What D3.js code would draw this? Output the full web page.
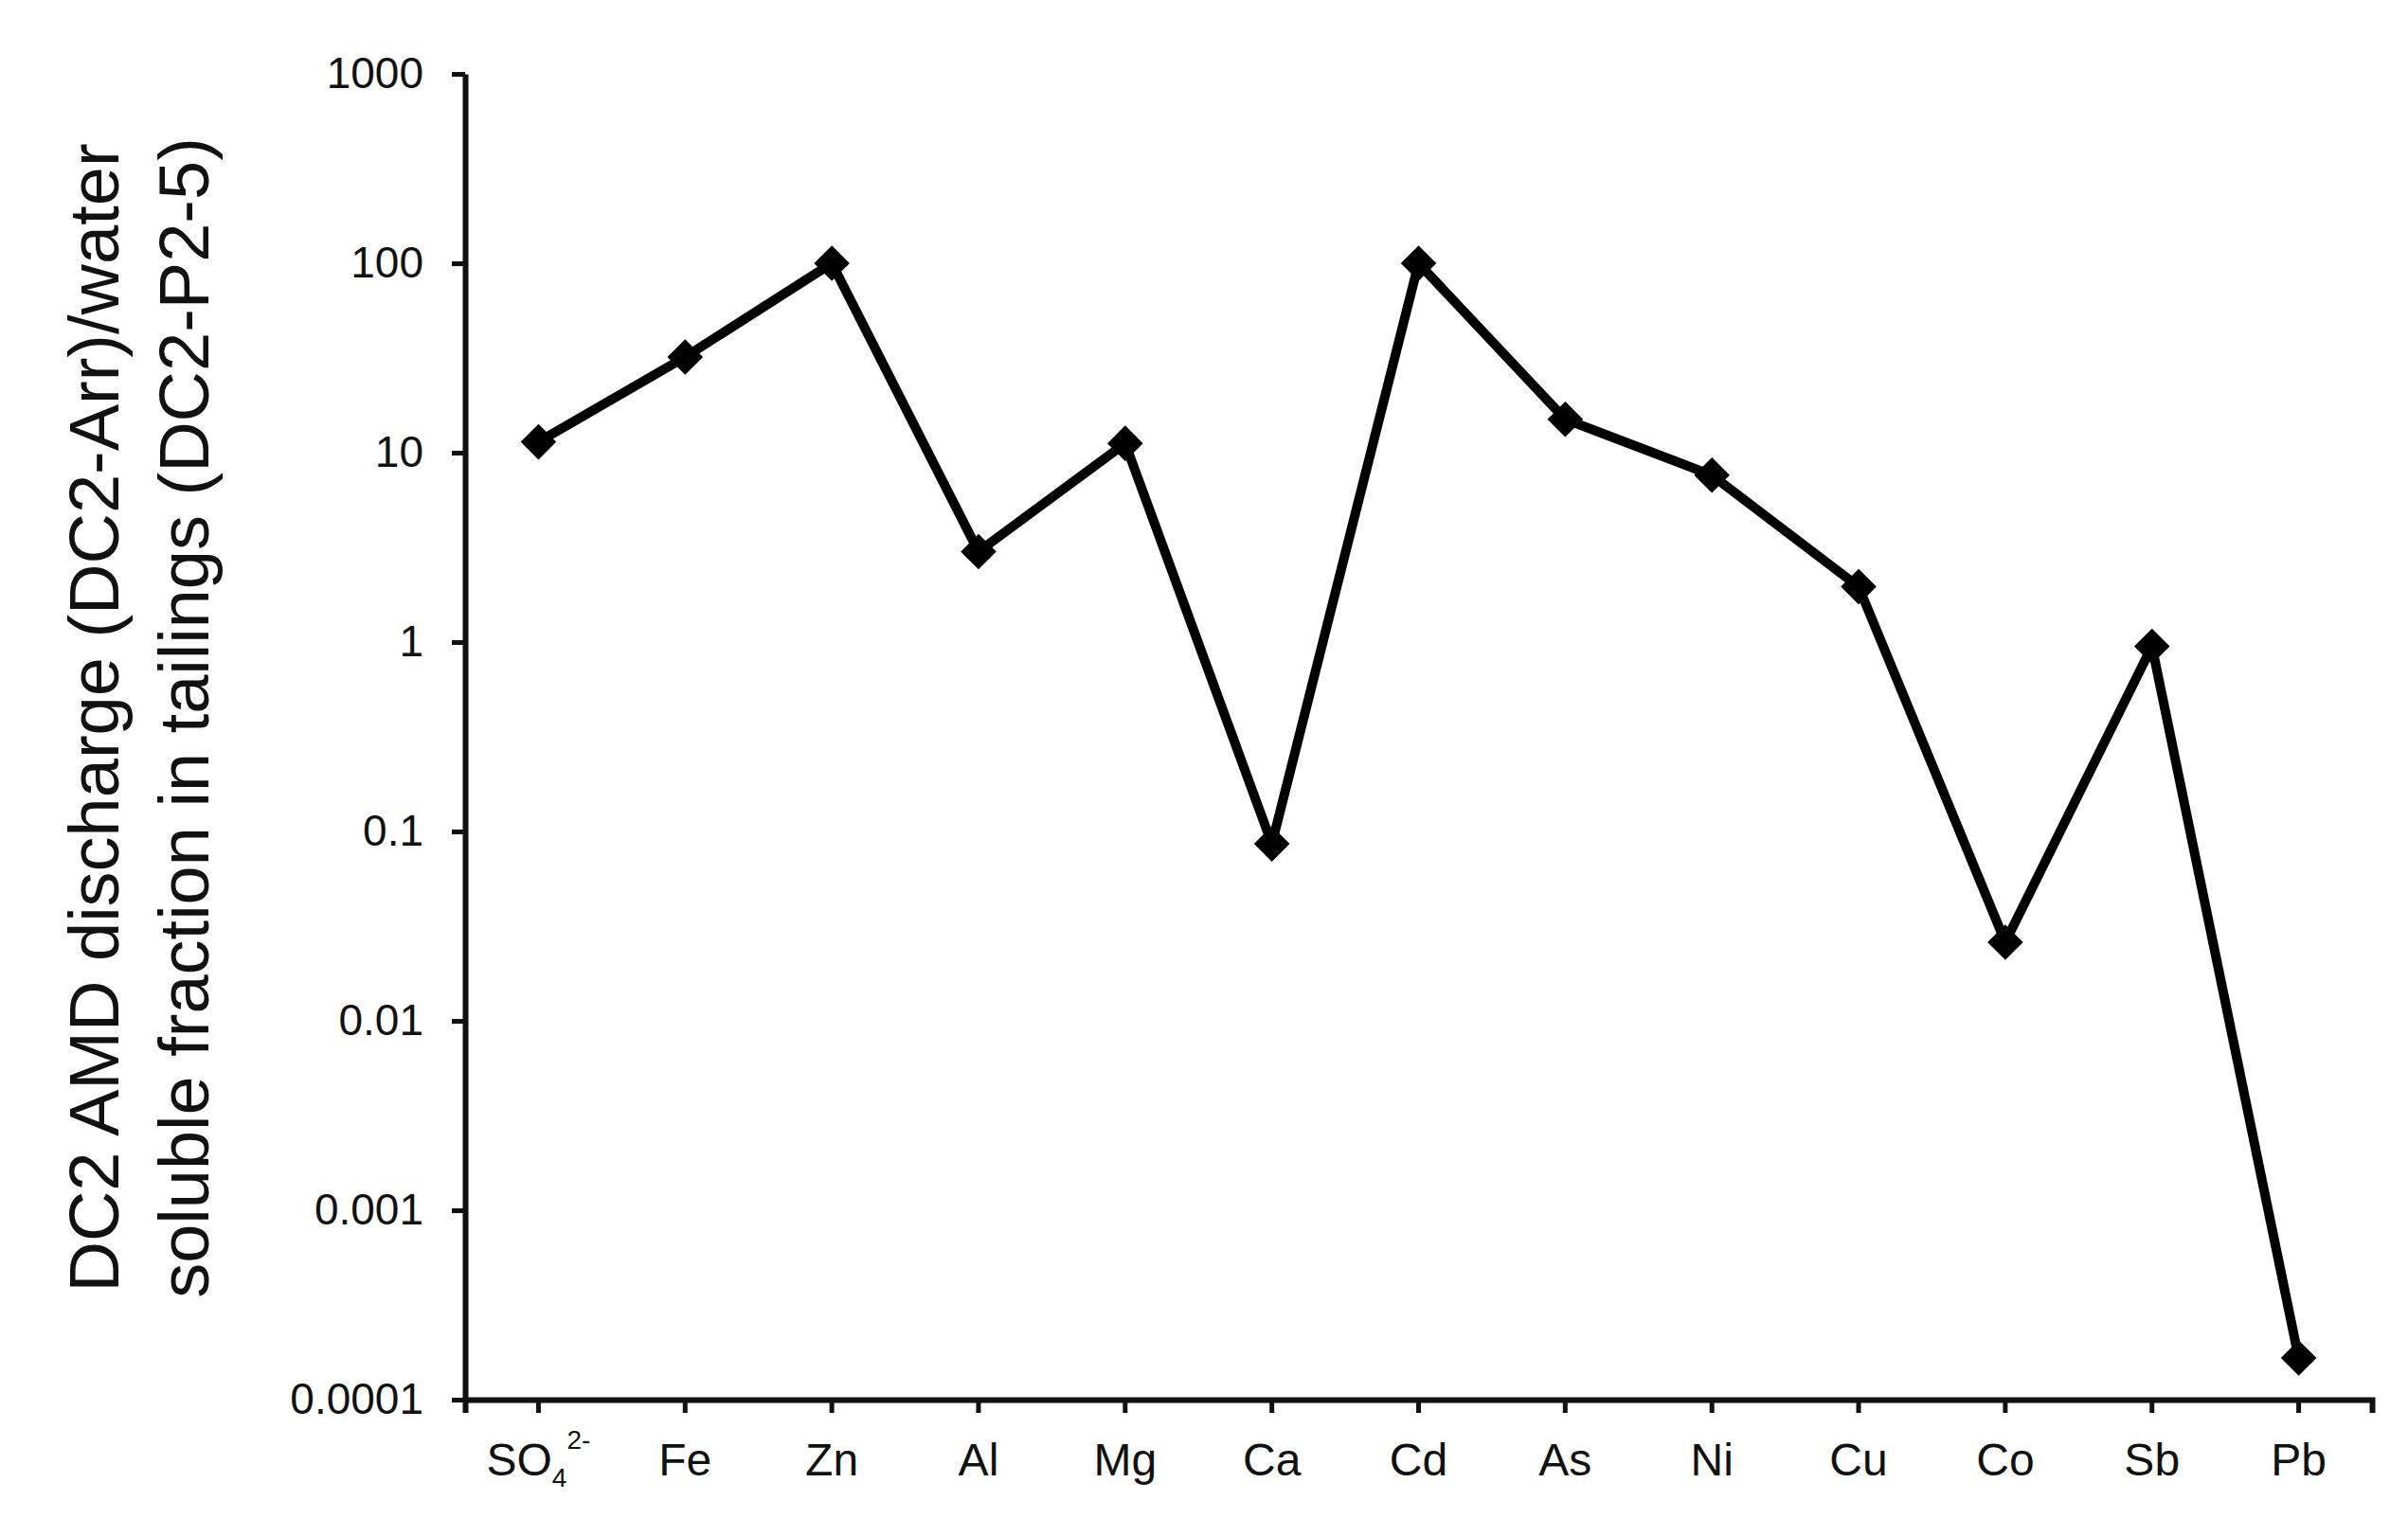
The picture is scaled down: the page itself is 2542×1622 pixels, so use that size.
<!DOCTYPE html>
<html>
<head>
<meta charset="utf-8">
<script src="https://cdn.jsdelivr.net/npm/d3@7"></script>
<style>
  body { margin: 0; background: #fff; }
  text { font-family: "Liberation Sans", Arial, sans-serif; fill: #111; }
</style>
</head>
<body>
<svg id="chart" width="2542" height="1622"></svg>
<script>
var elements = ["SO4", "Fe", "Zn", "Al", "Mg", "Ca", "Cd", "As", "Ni", "Cu", "Co", "Sb", "Pb"];
var ratios = [11.4, 32, 100, 3.0, 11.2, 0.086, 100, 15, 7.6, 1.96, 0.026, 0.95, 0.000166];
var yTicks = [0.0001, 0.001, 0.01, 0.1, 1, 10, 100, 1000];
var yTickLabels = ["0.0001", "0.001", "0.01", "0.1", "1", "10", "100", "1000"];

var svg = d3.select("#chart");
var plotLeft = 491, plotRight = 2504, plotTop = 78, plotBottom = 1478;

var x = d3.scaleBand().domain(elements).range([plotLeft, plotRight]);
var y = d3.scaleLog().domain([0.0001, 1000]).range([plotBottom, plotTop]);

// x axis
var xAxis = svg.append("g")
  .attr("transform", "translate(0," + plotBottom + ")")
  .call(d3.axisBottom(x).tickSize(14).tickSizeOuter(14).tickPadding(32));
xAxis.select(".domain").attr("stroke", "#111").attr("stroke-width", 6);
xAxis.selectAll(".tick line").attr("stroke", "#111").attr("stroke-width", 5);
xAxis.selectAll(".tick text").attr("font-size", 48).attr("fill", "#111")
  .attr("font-family", "Liberation Sans, Arial, sans-serif");

// SO4 2- label with sub/superscript
var so4 = xAxis.selectAll(".tick text").filter(d => d === "SO4");
so4.text("SO");
so4.append("tspan").text("4").attr("font-size", 28).attr("dy", 12);
so4.append("tspan").text("2-").attr("font-size", 28).attr("dy", -40);

// y axis
var yAxis = svg.append("g")
  .attr("transform", "translate(" + plotLeft + ",0)")
  .call(d3.axisLeft(y).tickValues(yTicks).tickFormat((d, i) => yTickLabels[i]).tickSize(14).tickSizeOuter(0).tickPadding(30));
yAxis.select(".domain").attr("stroke", "#111").attr("stroke-width", 6);
yAxis.selectAll(".tick line").attr("stroke", "#111").attr("stroke-width", 5);
yAxis.selectAll(".tick text").attr("font-size", 46).attr("fill", "#111")
  .attr("font-family", "Liberation Sans, Arial, sans-serif");

// axis title
var title = svg.append("text")
  .attr("transform", "translate(0,758) rotate(-90)")
  .attr("text-anchor", "middle")
  .attr("font-size", 74);
title.append("tspan").attr("x", 0).attr("y", 125).text("DC2 AMD discharge (DC2-Arr)/water");
title.append("tspan").attr("x", 0).attr("y", 220).text("soluble fraction in tailings (DC2-P2-5)");

// line
var line = d3.line()
  .x((d, i) => x(elements[i]) + x.bandwidth() / 2)
  .y(d => y(d));
svg.append("path")
  .datum(ratios)
  .attr("d", line)
  .attr("fill", "none")
  .attr("stroke", "#000")
  .attr("stroke-width", 10)
  .attr("stroke-linejoin", "miter");

// diamond markers
svg.selectAll(".pt")
  .data(ratios)
  .enter().append("path")
  .attr("class", "pt")
  .attr("d", d3.symbol().type(d3.symbolDiamond2).size(900))
  .attr("transform", (d, i) => "translate(" + (x(elements[i]) + x.bandwidth() / 2) + "," + y(d) + ")")
  .attr("fill", "#000");
</script>
</body>
</html>
